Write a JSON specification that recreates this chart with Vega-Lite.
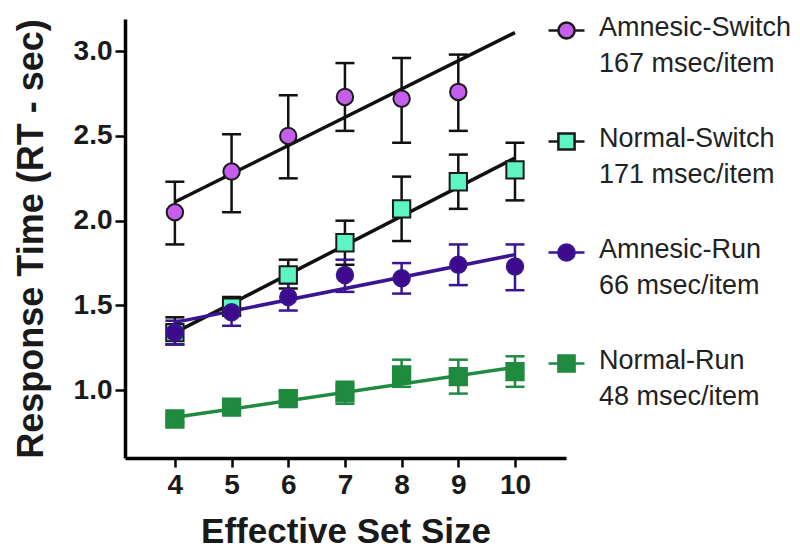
{
  "$schema": "https://vega.github.io/schema/vega-lite/v6.json",
  "width": 441,
  "height": 439,
  "autosize": "none",
  "padding": {"left": 125, "top": 19, "right": 234, "bottom": 96},
  "background": "white",
  "config": {
    "view": {"stroke": null},
    "font": "Liberation Sans",
    "style": {"guide-label": {"lineHeight": 36}}
  },
  "datasets": {
    "pts": [
      {"series": "Amnesic-Switch", "x": 4, "y": 2.05, "lo": 1.86, "hi": 2.23},
      {"series": "Amnesic-Switch", "x": 5, "y": 2.29, "lo": 2.05, "hi": 2.51},
      {"series": "Amnesic-Switch", "x": 6, "y": 2.50, "lo": 2.25, "hi": 2.74},
      {"series": "Amnesic-Switch", "x": 7, "y": 2.73, "lo": 2.53, "hi": 2.93},
      {"series": "Amnesic-Switch", "x": 8, "y": 2.72, "lo": 2.46, "hi": 2.96},
      {"series": "Amnesic-Switch", "x": 9, "y": 2.76, "lo": 2.53, "hi": 2.98},
      {"series": "Normal-Switch", "x": 4, "y": 1.34, "lo": 1.27, "hi": 1.43},
      {"series": "Normal-Switch", "x": 5, "y": 1.49, "lo": 1.44, "hi": 1.55},
      {"series": "Normal-Switch", "x": 6, "y": 1.68, "lo": 1.60, "hi": 1.77},
      {"series": "Normal-Switch", "x": 7, "y": 1.87, "lo": 1.74, "hi": 2.00},
      {"series": "Normal-Switch", "x": 8, "y": 2.07, "lo": 1.88, "hi": 2.26},
      {"series": "Normal-Switch", "x": 9, "y": 2.23, "lo": 2.07, "hi": 2.39},
      {"series": "Normal-Switch", "x": 10, "y": 2.30, "lo": 2.12, "hi": 2.46},
      {"series": "Amnesic-Run", "x": 4, "y": 1.34, "lo": 1.27, "hi": 1.41},
      {"series": "Amnesic-Run", "x": 5, "y": 1.46, "lo": 1.38, "hi": 1.53},
      {"series": "Amnesic-Run", "x": 6, "y": 1.55, "lo": 1.47, "hi": 1.63},
      {"series": "Amnesic-Run", "x": 7, "y": 1.68, "lo": 1.58, "hi": 1.77},
      {"series": "Amnesic-Run", "x": 8, "y": 1.66, "lo": 1.57, "hi": 1.75},
      {"series": "Amnesic-Run", "x": 9, "y": 1.74, "lo": 1.62, "hi": 1.86},
      {"series": "Amnesic-Run", "x": 10, "y": 1.73, "lo": 1.59, "hi": 1.86},
      {"series": "Normal-Run", "x": 4, "y": 0.83, "lo": 0.81, "hi": 0.85},
      {"series": "Normal-Run", "x": 5, "y": 0.90, "lo": 0.88, "hi": 0.92},
      {"series": "Normal-Run", "x": 6, "y": 0.95, "lo": 0.91, "hi": 0.99},
      {"series": "Normal-Run", "x": 7, "y": 0.985, "lo": 0.92, "hi": 1.05},
      {"series": "Normal-Run", "x": 8, "y": 1.09, "lo": 1.02, "hi": 1.18},
      {"series": "Normal-Run", "x": 9, "y": 1.08, "lo": 0.98, "hi": 1.18},
      {"series": "Normal-Run", "x": 10, "y": 1.11, "lo": 1.02, "hi": 1.20}
    ],
    "fits": [
      {"series": "Amnesic-Switch", "x": 4, "y": 2.11},
      {"series": "Amnesic-Switch", "x": 10, "y": 3.11},
      {"series": "Normal-Switch", "x": 4, "y": 1.34},
      {"series": "Normal-Switch", "x": 10, "y": 2.37},
      {"series": "Amnesic-Run", "x": 4, "y": 1.40},
      {"series": "Amnesic-Run", "x": 10, "y": 1.80},
      {"series": "Normal-Run", "x": 4, "y": 0.84},
      {"series": "Normal-Run", "x": 10, "y": 1.135}
    ]
  },
  "encoding": {
    "x": {
      "field": "x",
      "type": "quantitative",
      "title": "Effective Set Size",
      "scale": {"domain": [3.12, 10.9], "nice": false, "zero": false},
      "axis": {"values": [4, 5, 6, 7, 8, 9, 10], "format": "d", "grid": false,
               "domainColor": "#000000", "domainWidth": 3.5, "tickColor": "#000000", "tickWidth": 2.5, "tickSize": 9,
               "labelFont": "Liberation Sans", "labelFontWeight": "bold", "labelFontSize": 28, "labelColor": "#1a1a1a",
               "labelPadding": 4, "labelAngle": 0,
               "titleFont": "Liberation Sans", "titleFontWeight": "bold", "titleFontSize": 35, "titleColor": "#1a1a1a", "titlePadding": 15}
    }
  },
  "layer": [
    {
      "data": {"name": "fits"},
      "mark": {"type": "line", "strokeWidth": 3.5},
      "encoding": {
        "y": {"field": "y", "type": "quantitative", "title": "Response Time (RT - sec)",
              "scale": {"domain": [0.6, 3.19], "nice": false, "zero": false},
              "axis": {"values": [1.0, 1.5, 2.0, 2.5, 3.0], "format": ".1f", "grid": false,
                       "domainColor": "#000000", "domainWidth": 3.5, "tickColor": "#000000", "tickWidth": 2.5, "tickSize": 10,
                       "labelFont": "Liberation Sans", "labelFontWeight": "bold", "labelFontSize": 28, "labelColor": "#1a1a1a",
                       "labelPadding": 3,
                       "titleFont": "Liberation Sans", "titleFontWeight": "bold", "titleFontSize": 36, "titleColor": "#1a1a1a", "titlePadding": 23}},
        "color": {"field": "series", "type": "nominal",
                  "scale": {"domain": ["Amnesic-Run", "Amnesic-Switch", "Normal-Run", "Normal-Switch"],
                            "range": ["#3a1592", "#111111", "#1f8a40", "#111111"]},
                  "legend": null}
      }
    },
    {
      "data": {"name": "pts"},
      "mark": {"type": "rule", "strokeWidth": 2.5},
      "encoding": {
        "y": {"field": "lo", "type": "quantitative", "title": "Response Time (RT - sec)"},
        "y2": {"field": "hi"},
        "color": {"field": "series", "type": "nominal", "legend": null}
      }
    },
    {
      "data": {"name": "pts"},
      "mark": {"type": "point", "shape": "stroke", "size": 361, "strokeWidth": 2.5, "filled": false, "opacity": 1},
      "encoding": {
        "y": {"field": "lo", "type": "quantitative", "title": "Response Time (RT - sec)"},
        "color": {"field": "series", "type": "nominal", "legend": null}
      }
    },
    {
      "data": {"name": "pts"},
      "mark": {"type": "point", "shape": "stroke", "size": 361, "strokeWidth": 2.5, "filled": false, "opacity": 1},
      "encoding": {
        "y": {"field": "hi", "type": "quantitative", "title": "Response Time (RT - sec)"},
        "color": {"field": "series", "type": "nominal", "legend": null}
      }
    },
    {
      "data": {"name": "pts"},
      "transform": [{"filter": "indexof(datum.series, 'Normal') == 0"}],
      "mark": {"type": "point", "shape": "square", "size": 300, "strokeWidth": 2, "filled": true, "opacity": 1},
      "encoding": {
        "y": {"field": "y", "type": "quantitative", "title": "Response Time (RT - sec)"},
        "fill": {"condition": {"test": "datum.series == 'Normal-Switch'", "value": "#5ef5c4"}, "value": "#1e8b3f"},
        "stroke": {"condition": {"test": "datum.series == 'Normal-Switch'", "value": "#1a1a1a"}, "value": "#1f8a40"}
      }
    },
    {
      "data": {"name": "pts"},
      "transform": [{"filter": "indexof(datum.series, 'Amnesic') == 0"}],
      "mark": {"type": "point", "shape": "circle", "size": 270, "strokeWidth": 2, "filled": true, "opacity": 1},
      "encoding": {
        "y": {"field": "y", "type": "quantitative", "title": "Response Time (RT - sec)"},
        "fill": {"condition": {"test": "datum.series == 'Amnesic-Switch'", "value": "#c55ded"}, "value": "#3d0a8e"},
        "stroke": {"condition": {"test": "datum.series == 'Amnesic-Switch'", "value": "#1a1a1a"}, "value": "#3a1592"}
      }
    },
    {
      "data": {"name": "pts"},
      "mark": {"type": "point", "filled": true, "opacity": 0},
      "encoding": {
        "y": {"field": "y", "type": "quantitative", "title": "Response Time (RT - sec)"},
        "fill": {"field": "series", "type": "nominal",
                 "scale": {"domain": ["Amnesic-Switch", "Normal-Switch", "Amnesic-Run", "Normal-Run"],
                           "range": ["#c55ded", "#5ef5c4", "#3d0a8e", "#1e8b3f"]},
                 "legend": {
                   "orient": "none", "legendX": 422, "legendY": -8, "title": null, "padding": 0,
                   "symbolSize": 1296, "symbolStrokeWidth": 2.5, "symbolOpacity": 1,
                   "labelFont": "Liberation Sans", "labelFontSize": 27, "labelColor": "#222222",
                   "labelOffset": 13, "labelBaseline": "top", "labelLimit": 400, "rowPadding": 45,
                   "labelExpr": "datum.label == 'Amnesic-Switch' ? ['Amnesic-Switch', '167 msec/item'] : datum.label == 'Normal-Switch' ? ['Normal-Switch', '171 msec/item'] : datum.label == 'Amnesic-Run' ? ['Amnesic-Run', '66 msec/item'] : ['Normal-Run', '48 msec/item']",
                   "encode": {"labels": {"update": {"lineHeight": {"value": 36}, "dy": {"value": -16}}}}
                 }},
        "stroke": {"field": "series", "type": "nominal",
                   "scale": {"domain": ["Amnesic-Switch", "Normal-Switch", "Amnesic-Run", "Normal-Run"],
                             "range": ["#1a1a1a", "#1a1a1a", "#3a1592", "#1f8a40"]},
                   "legend": {
                     "orient": "none", "legendX": 422, "legendY": -8, "title": null, "padding": 0,
                     "symbolSize": 1296, "symbolStrokeWidth": 2.5, "symbolOpacity": 1,
                     "labelFont": "Liberation Sans", "labelFontSize": 27, "labelColor": "#222222",
                     "labelOffset": 13, "labelBaseline": "top", "labelLimit": 400, "rowPadding": 45,
                     "labelExpr": "datum.label == 'Amnesic-Switch' ? ['Amnesic-Switch', '167 msec/item'] : datum.label == 'Normal-Switch' ? ['Normal-Switch', '171 msec/item'] : datum.label == 'Amnesic-Run' ? ['Amnesic-Run', '66 msec/item'] : ['Normal-Run', '48 msec/item']",
                     "encode": {"labels": {"update": {"lineHeight": {"value": 36}, "dy": {"value": -16}}}}
                   }},
        "shape": {
          "field": "series", "type": "nominal",
          "scale": {
            "domain": ["Amnesic-Switch", "Normal-Switch", "Amnesic-Run", "Normal-Run"],
            "range": [
              "M-1,0H-0.45M0.45,0H1M-0.45,0A0.45,0.45,0,1,1,0.45,0A0.45,0.45,0,1,1,-0.45,0Z",
              "M-1,0H-0.45M0.45,0H1M-0.45,-0.45H0.45V0.45H-0.45Z",
              "M-1,0H-0.45M0.45,0H1M-0.45,0A0.45,0.45,0,1,1,0.45,0A0.45,0.45,0,1,1,-0.45,0Z",
              "M-1,0H-0.45M0.45,0H1M-0.45,-0.45H0.45V0.45H-0.45Z"
            ]
          },
          "legend": {
            "orient": "none", "legendX": 422, "legendY": -8, "title": null, "padding": 0,
            "symbolSize": 1296, "symbolStrokeWidth": 2.5, "symbolOpacity": 1,
            "labelFont": "Liberation Sans", "labelFontSize": 27, "labelColor": "#222222",
            "labelOffset": 13, "labelBaseline": "top", "labelLimit": 400, "rowPadding": 45,
            "labelExpr": "datum.label == 'Amnesic-Switch' ? ['Amnesic-Switch', '167 msec/item'] : datum.label == 'Normal-Switch' ? ['Normal-Switch', '171 msec/item'] : datum.label == 'Amnesic-Run' ? ['Amnesic-Run', '66 msec/item'] : ['Normal-Run', '48 msec/item']",
            "encode": {"labels": {"update": {"lineHeight": {"value": 36}, "dy": {"value": -16}}}}
          }
        }
      }
    }
  ]
}
